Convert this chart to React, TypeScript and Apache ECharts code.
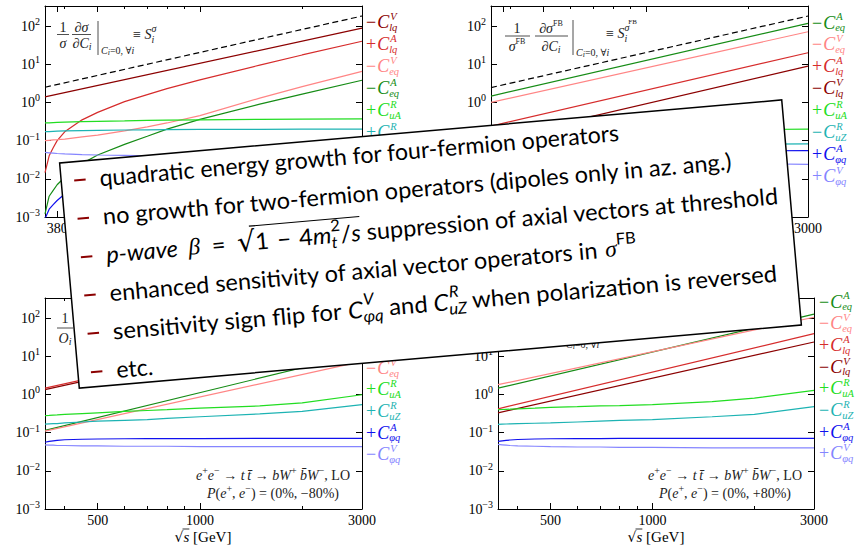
import React, { useEffect, useRef } from "react";
import * as echarts from "echarts";

const SERIF = "'Liberation Serif', 'DejaVu Serif', serif";
const SANS = "Lato, 'Open Sans', sans-serif";

// ---------------- data ----------------
const sqrtSFine = [350, 360, 370, 380, 400, 450, 500, 600, 700, 800, 1000, 1500, 2000, 3000];
const sqrtSEnds = [350, 3000];

const xMajorTop = [380, 500, 1000, 3000];
const xMajorBottom = [500, 1000, 3000];
const xMinor = [400, 600, 700, 800, 900, 2000];
const yDecades = [0.001, 0.01, 0.1, 1, 10, 100];

// top-left: (1/sigma) dsigma/dC
const tlRef = [2.5, 183];
const tlLqV = [1.4, 88];
const tlLqA = [0.0145, 0.04, 0.065, 0.1, 0.17, 0.35, 0.55, 1.05, 1.6, 2.3, 3.9, 9.5, 17.5, 40];
const tlEqV = [0.1, 0.102, 0.104, 0.106, 0.11, 0.125, 0.14, 0.18, 0.23, 0.29, 0.45, 1.3, 2.6, 6.5];
const tlEqA = [0.0012, 0.0035, 0.005, 0.007, 0.011, 0.025, 0.042, 0.08, 0.13, 0.2, 0.36, 0.9, 1.65, 3.8];
const tlUA = [0.29, 0.29, 0.295, 0.3, 0.305, 0.315, 0.32, 0.33, 0.34, 0.345, 0.35, 0.36, 0.365, 0.37];
const tlUZ = [0.172, 0.173, 0.175, 0.177, 0.18, 0.183, 0.186, 0.19, 0.192, 0.194, 0.196, 0.198, 0.199, 0.2];
const tlPhiA = [0.0009, 0.0016, 0.0021, 0.0027, 0.004, 0.008, 0.012, 0.017, 0.02, 0.022, 0.024, 0.026, 0.027, 0.027];
const tlPhiV = [0.049, 0.048, 0.047, 0.046, 0.045, 0.043, 0.042, 0.041, 0.04, 0.04, 0.04, 0.04, 0.04, 0.04];

// top-right: (1/sigmaFB) dsigmaFB/dC
const trRef = [2.45, 183];
const trEqA = [1.47, 118];
const trEqV = [1.0, 71];
const trLqA = [0.24, 20];
const trLqV = [0.105, 8.9];
const trUA = [0.17, 0.2];
const trUZ = [0.075, 0.082];
const trPhiA = [0.05, 0.055];
const trPhiV = [0.03, 0.024];

// bottom-left: P = (0%, -80%)
const blLqA = [1.46, 100];
const blLqV = [1.33, 90];
const blEqA = [0.115, 12];
const blEqV = [0.11, 7.3];
const blUA = [0.28, 0.283, 0.287, 0.29, 0.3, 0.315, 0.33, 0.36, 0.38, 0.4, 0.44, 0.5, 0.6, 0.98];
const blUZ = [0.167, 0.169, 0.171, 0.173, 0.18, 0.19, 0.2, 0.21, 0.22, 0.235, 0.26, 0.31, 0.36, 0.54];
const blPhiA = [0.056, 0.059, 0.061, 0.063, 0.065, 0.067, 0.068, 0.069, 0.07, 0.07, 0.07, 0.071, 0.071, 0.071];
const blPhiV = [0.048, 0.047, 0.047, 0.046, 0.046, 0.045, 0.045, 0.044, 0.044, 0.044, 0.043, 0.043, 0.043, 0.043];

// bottom-right: P = (0%, +80%)
const brEqA = [1.46, 127];
const brEqV = [1.8, 105];
const brLqA = [0.42, 39];
const brLqV = [0.33, 23.6];
const brUA = [0.4, 0.403, 0.407, 0.41, 0.42, 0.44, 0.46, 0.48, 0.5, 0.51, 0.54, 0.65, 0.8, 1.27];
const brUZ = [0.164, 0.166, 0.168, 0.17, 0.172, 0.176, 0.18, 0.19, 0.2, 0.21, 0.22, 0.26, 0.3, 0.48];
const brPhiA = [0.059, 0.061, 0.063, 0.064, 0.066, 0.068, 0.069, 0.07, 0.07, 0.071, 0.071, 0.071, 0.071, 0.071];
const brPhiV = [0.049, 0.048, 0.047, 0.046, 0.045, 0.044, 0.043, 0.042, 0.042, 0.041, 0.041, 0.04, 0.04, 0.04];

// right-hand labels (sign, operator) in order; "" marks a label hidden under the box
const tlLabels = [["−", "lqV"], ["+", "lqA"], ["−", "eqV"], ["−", "eqA"], ["+", "uA"], ["+", "uZ"], ["", "phiV"], ["", "phiA"]];
const trLabels = [["−", "eqA"], ["−", "eqV"], ["+", "lqA"], ["−", "lqV"], ["+", "uA"], ["−", "uZ"], ["+", "phiA"], ["+", "phiV"]];
const blLabels = [["", "lqA"], ["", "lqV"], ["", "eqA"], ["−", "eqV"], ["+", "uA"], ["+", "uZ"], ["+", "phiA"], ["−", "phiV"]];
const brLabels = [["−", "eqA"], ["−", "eqV"], ["+", "lqA"], ["−", "lqV"], ["+", "uA"], ["−", "uZ"], ["+", "phiA"], ["+", "phiV"]];

const OPS: Record<string, { sup: string; sub: string }> = {
  lqV: { sup: "V", sub: "lq" }, lqA: { sup: "A", sub: "lq" },
  eqV: { sup: "V", sub: "eq" }, eqA: { sup: "A", sub: "eq" },
  uA: { sup: "R", sub: "uA" }, uZ: { sup: "R", sub: "uZ" },
  phiA: { sup: "A", sub: "φq" }, phiV: { sup: "V", sub: "φq" },
};

const COL: Record<string, string> = {
  ref: "#000000", lqV: "#8b0000", lqA: "#d62c2c", eqV: "#ff8585", eqA: "#168c16",
  uA: "#22dd22", uZ: "#1db3b3", phiA: "#1010ee", phiV: "#8585ff",
};

const boxLine1 = "quadratic energy growth for four-fermion operators";
const boxLine2 = "no growth for two-fermion operators (dipoles only in az. ang.)";

// ---------------- text layout helpers ----------------
let ctx2: CanvasRenderingContext2D | null = null;
function tw(t: string, f: string): number {
  if (!ctx2) ctx2 = document.createElement("canvas").getContext("2d");
  if (!ctx2) return t.length * 7;
  ctx2.font = f;
  return ctx2.measureText(t).width;
}
interface Piece { t: string; f: string; dy?: number; dx?: number }
type Seg = Piece | { stack: Piece[] };
function segW(s: Seg): number {
  if ("stack" in s) return Math.max(...s.stack.map((p) => tw(p.t, p.f) + (p.dx || 0)));
  return tw(s.t, s.f) + (s.dx || 0);
}
function txt(x: number, y: number, t: string, f: string, fill: string, z: number) {
  return {
    type: "text", x, y, z, silent: true,
    style: { text: t, font: f, fill, align: "left", verticalAlign: "middle", textAlign: "left", textVerticalAlign: "middle" },
  };
}
function layout(segs: Seg[], x0: number, y0: number, fill: string, z: number, align = "left") {
  const widths = segs.map(segW);
  const total = widths.reduce((a, b) => a + b, 0);
  let x = align === "left" ? x0 : align === "center" ? x0 - total / 2 : x0 - total;
  const els: any[] = [];
  const xs: number[] = [];
  segs.forEach((s, i) => {
    xs.push(x);
    const ps = "stack" in s ? s.stack : [s];
    ps.forEach((p) => { if (p.t.trim() !== "") els.push(txt(x + (p.dx || 0), y0 + (p.dy || 0), p.t, p.f, fill, z)); });
    x += widths[i];
  });
  xs.push(x);
  return { els, xs, total };
}
function ln(x1: number, y1: number, x2: number, y2: number, stroke: string, w: number, z: number) {
  return { type: "line", z, silent: true, shape: { x1, y1, x2, y2 }, style: { stroke, lineWidth: w } };
}

// ---------------- chart building ----------------
const GRIDS = [
  { left: 45, top: 6, width: 317, height: 211 },
  { left: 491, top: 6, width: 317, height: 211 },
  { left: 45, top: 298, width: 317, height: 211 },
  { left: 498, top: 298, width: 316, height: 211 },
];

function xAxes(g: number, labels: number[], majors: number[]) {
  const base: any = { gridIndex: g, type: "log", logBase: 10, min: 350, max: 3000, splitLine: { show: false }, minorTick: { show: false } };
  const ts = { color: "#000", width: 1 };
  const al = { show: true, onZero: false, lineStyle: { color: "#000", width: 1 } };
  return [
    { ...base, position: "bottom", axisLine: al, axisTick: { show: true, inside: true, length: 6, customValues: majors, lineStyle: ts },
      axisLabel: { show: true, customValues: labels, formatter: (v: number) => String(Math.round(v)), color: "#000", fontFamily: SERIF, fontSize: 14, margin: 4 } },
    { ...base, position: "bottom", axisLine: { show: false }, axisTick: { show: true, inside: true, length: 3, customValues: xMinor, lineStyle: ts }, axisLabel: { show: false } },
    { ...base, position: "top", axisLine: al, axisTick: { show: true, inside: true, length: 6, customValues: majors, lineStyle: ts }, axisLabel: { show: false } },
    { ...base, position: "top", axisLine: { show: false }, axisTick: { show: true, inside: true, length: 3, customValues: xMinor, lineStyle: ts }, axisLabel: { show: false } },
  ];
}
function powFmt(v: number) {
  const e = Math.round(Math.log10(v));
  return "{b|10}{s|" + (e < 0 ? "−" + -e : String(e)) + "}";
}
function yAxes(g: number) {
  const base: any = { gridIndex: g, type: "log", logBase: 10, min: 0.001, max: 335, splitLine: { show: false }, minorTick: { show: false } };
  const ts = { color: "#000", width: 1 };
  const al = { show: true, onZero: false, lineStyle: { color: "#000", width: 1 } };
  return [
    { ...base, position: "left", axisLine: al, axisTick: { show: true, inside: true, length: 6, customValues: yDecades, lineStyle: ts },
      axisLabel: { show: true, customValues: yDecades, formatter: powFmt, margin: 5,
        rich: { b: { fontSize: 14, fontFamily: SERIF, color: "#000" }, s: { fontSize: 10, fontFamily: SERIF, color: "#000", padding: [0, 0, 9, 0] } } } },
    { ...base, position: "right", axisLine: al, axisTick: { show: true, inside: true, length: 6, customValues: yDecades, lineStyle: ts }, axisLabel: { show: false } },
  ];
}
function ser(g: number, xs: number[], ys: number[], key: string, dashed = false) {
  return {
    type: "line", xAxisIndex: g * 4, yAxisIndex: g * 2, symbol: "none", silent: true, z: 2,
    data: xs.map((x, i) => [x, ys[i]]),
    lineStyle: { color: COL[key], width: 1.2, type: dashed ? [6, 3.5] : "solid" },
  };
}

function rightLabels(list: string[][], x: number, y0: number, step: number) {
  const out: any[] = [];
  const f = `18px ${SERIF}`, fi = `italic 18px ${SERIF}`, fs = `italic 10.5px ${SERIF}`;
  list.forEach(([sign, key], k) => {
    if (!sign) return; // hidden under the overlay box
    const op = OPS[key];
    const L = layout([{ t: sign, f }, { t: "C", f: fi, dx: 1 }, { stack: [{ t: op.sup, f: fs, dy: -5.6, dx: 1 }, { t: op.sub, f: fs, dy: 5.3 }] }], x, y0 + k * step, COL[key], 50);
    out.push(...L.els);
  });
  return out;
}

function buildGraphics() {
  const g: any[] = [];
  const C = "#222";
  const R14 = `14px ${SERIF}`, I14 = `italic 14px ${SERIF}`, I10 = `italic 10px ${SERIF}`, R10 = `10px ${SERIF}`, R8 = `8px ${SERIF}`, I8 = `italic 8px ${SERIF}`;
  // top-left formula
  g.push(...layout([{ t: "1", f: R14 }], 63, 27, C, 50, "center").els);
  g.push(ln(57, 34.5, 69, 34.5, C, 0.8, 50));
  g.push(...layout([{ t: "σ", f: I14 }], 63, 43, C, 50, "center").els);
  g.push(...layout([{ t: "∂σ", f: I14 }], 81.5, 27, C, 50, "center").els);
  g.push(ln(72, 34.5, 91, 34.5, C, 0.8, 50));
  g.push(...layout([{ t: "∂C", f: I14 }, { t: "i", f: I10, dy: 3 }], 82, 43, C, 50, "center").els);
  g.push(ln(98, 21, 98, 55, C, 0.8, 50));
  g.push(...layout([{ t: "C", f: I10 }, { t: "i", f: I8, dy: 2 }, { t: "=0, ∀", f: R10 }, { t: "i", f: I10 }], 101, 50, C, 50).els);
  g.push(...layout([{ t: "≡ ", f: R14 }, { t: "S", f: I14 }, { stack: [{ t: "σ", f: I10, dy: -6 }, { t: "i", f: I10, dy: 5 }] }], 133, 34, C, 50).els);
  // top-right formula
  g.push(...layout([{ t: "1", f: R14 }], 517, 28, C, 50, "center").els);
  g.push(ln(505, 36, 530, 36, C, 0.8, 50));
  g.push(...layout([{ t: "σ", f: I14 }, { t: "FB", f: R8, dy: -5 }], 517, 46, C, 50, "center").els);
  g.push(...layout([{ t: "∂σ", f: I14 }, { t: "FB", f: R8, dy: -5 }], 551, 28, C, 50, "center").els);
  g.push(ln(535, 36, 568, 36, C, 0.8, 50));
  g.push(...layout([{ t: "∂C", f: I14 }, { t: "i", f: I10, dy: 3 }], 551, 46, C, 50, "center").els);
  g.push(ln(573, 20, 573, 55, C, 0.8, 50));
  g.push(...layout([{ t: "C", f: I10 }, { t: "i", f: I8, dy: 2 }, { t: "=0, ∀", f: R10 }, { t: "i", f: I10 }], 576, 52, C, 50).els);
  g.push(...layout([{ t: "≡ ", f: R14 }, { t: "S", f: I14 }, { stack: [{ t: "σ", f: I10, dy: -6 }, { t: "i", f: I10, dy: 5 }] }, { t: "FB", f: `7px ${SERIF}`, dy: -11, dx: -1 }], 606, 33, C, 50).els);
  // bottom formulas (only the parts not covered by the box)
  g.push(...layout([{ t: "1", f: R14 }], 65, 318, C, 50, "center").els);
  g.push(ln(57, 328, 73, 328, C, 0.8, 50));
  g.push(...layout([{ t: "O", f: I14 }, { t: "i", f: I10, dy: 3 }], 65, 338, C, 50, "center").els);
  g.push(...layout([{ t: "C", f: I10 }, { t: "i", f: I8, dy: 2 }, { t: "=0, ∀", f: R10 }, { t: "i", f: I10 }], 566, 344, C, 50).els);
  // process texts
  const I13 = `italic 14px ${SERIF}`, R13 = `14px ${SERIF}`, S9 = `10px ${SERIF}`;
  const arrow = "\u2005→\u2005";
  [[273, "−80%"], [725, "+80%"]].forEach(([cx, pol]) => {
    g.push(...layout([
      { t: "e", f: I13 }, { t: "+", f: S9, dy: -5 }, { t: "e", f: I13 }, { t: "−", f: S9, dy: -5 }, { t: arrow, f: R13 },
      { t: "t\u2009t̄", f: I13 }, { t: arrow, f: R13 }, { t: "bW", f: I13 }, { t: "+", f: S9, dy: -5 }, { t: " b̄W", f: I13 },
      { t: "−", f: S9, dy: -5 }, { t: ", LO", f: R13 },
    ], cx as number, 475, C, 50, "center").els);
    g.push(...layout([
      { t: "P", f: I13 }, { t: "(", f: R13 }, { t: "e", f: I13 }, { t: "+", f: S9, dy: -5 }, { t: ", ", f: R13 },
      { t: "e", f: I13 }, { t: "−", f: S9, dy: -5 }, { t: ") = (0%, " + pol + ")", f: R13 },
    ], cx as number, 493, C, 50, "center").els);
  });
  // x-axis names
  [203, 656].forEach((cx) => {
    const L = layout([{ t: "√", f: `14px 'DejaVu Sans'` }, { t: "s", f: `italic 15px ${SERIF}` }, { t: " [GeV]", f: `15px ${SERIF}` }], cx, 537, "#000", 50, "center");
    g.push(...L.els);
    g.push(ln(L.xs[1] - 1, 529, L.xs[2], 529, "#000", 0.8, 50));
  });
  // right labels
  g.push(...rightLabels(tlLabels, 366, 21.7, 22));
  g.push(...rightLabels(trLabels, 812, 22.5, 21.9));
  g.push(...rightLabels(blLabels, 366, 303, 21.6));
  g.push(...rightLabels(brLabels, 819, 301.5, 21.7));

  // overlay box
  const F = (20 * 522) / tw(boxLine1, `20px ${SANS}`);
  const S = `${F}px ${SANS}`, SI = `italic ${F}px ${SANS}`, M = `italic ${F}px ${SERIF}`;
  const Ss = `${0.7 * F}px ${SANS}`, SIs = `italic ${0.7 * F}px ${SANS}`;
  const RAD = `${1.2 * F}px 'DejaVu Sans'`;
  const sp = (k: number) => ({ t: " ", f: S, dx: k * F });
  const lines: Seg[][] = [
    [{ t: boxLine1, f: S }],
    [{ t: boxLine2, f: S }],
    [{ t: "p-wave", f: SI }, sp(0.2), { t: "β", f: M }, sp(0.25), { t: "=", f: S }, sp(0.25), { t: "√", f: RAD },
      { t: "1", f: S }, sp(0.1), { t: "−", f: S }, sp(0.1), { t: "4", f: S }, { t: "m", f: SI }, { stack: [{ t: "2", f: Ss, dy: -0.4 * F }, { t: "t", f: SIs, dy: 0.33 * F }] },
      { t: "/", f: S }, { t: "s", f: SI }, { t: " suppression of axial vectors at threshold", f: S }],
    [{ t: "enhanced sensitivity of axial vector operators in ", f: S }, { t: "σ", f: M }, { t: "FB", f: Ss, dy: -0.42 * F }],
    [{ t: "sensitivity sign flip for ", f: S }, { t: "C", f: SI }, { stack: [{ t: "V", f: SIs, dy: -0.42 * F, dx: 1 }, { t: "φq", f: SIs, dy: 0.33 * F }] },
      { t: " and ", f: S }, { t: "C", f: SI }, { stack: [{ t: "R", f: SIs, dy: -0.42 * F, dx: 1 }, { t: "uZ", f: SIs, dy: 0.33 * F }] },
      { t: " when polarization is reversed", f: S }],
    [{ t: "etc.", f: S }],
  ];
  const targets = [522, 632, 675, 529, 667, 0];
  const kids: any[] = [
    { type: "rect", z: 100, silent: true, shape: { x: -362.5, y: -113, width: 725, height: 226 }, style: { fill: "#fff", stroke: "#000", lineWidth: 1.5 } },
  ];
  lines.forEach((segs, k) => {
    const v = -94.3 + 38.5 * k;
    kids.push(ln(-349.5, v, -338, v, "#8b0000", 2, 101));
    const L = layout(segs, 0, 0, "#000", 101);
    const lineKids: any[] = [...L.els];
    if (k === 2) {
      const top = -0.66 * F;
      lineKids.push(ln(L.xs[6] + 0.72 * tw("√", RAD), top, L.xs[16], top, "#000", 1.2, 101));
    }
    const sx = targets[k] ? targets[k] / L.total : 1;
    kids.push({ type: "group", x: -324, y: v - 1, scaleX: sx, z: 101, children: lineKids });
  });
  g.push({ type: "group", x: 430.5, y: 244, rotation: (5 * Math.PI) / 180, z: 100, children: kids });
  return g;
}

function buildOption() {
  const xAxis = [
    ...xAxes(0, xMajorTop, xMajorTop), ...xAxes(1, xMajorTop, xMajorTop),
    ...xAxes(2, xMajorBottom, xMajorBottom), ...xAxes(3, xMajorBottom, xMajorBottom),
  ];
  const yAxis = [...yAxes(0), ...yAxes(1), ...yAxes(2), ...yAxes(3)];
  const F = sqrtSFine, E = sqrtSEnds;
  const series = [
    ser(0, E, tlRef, "ref", true), ser(0, E, tlLqV, "lqV"), ser(0, F, tlLqA, "lqA"), ser(0, F, tlEqV, "eqV"),
    ser(0, F, tlEqA, "eqA"), ser(0, F, tlUA, "uA"), ser(0, F, tlUZ, "uZ"), ser(0, F, tlPhiA, "phiA"), ser(0, F, tlPhiV, "phiV"),
    ser(1, E, trRef, "ref", true), ser(1, E, trEqA, "eqA"), ser(1, E, trEqV, "eqV"), ser(1, E, trLqA, "lqA"), ser(1, E, trLqV, "lqV"),
    ser(1, E, trUA, "uA"), ser(1, E, trUZ, "uZ"), ser(1, E, trPhiA, "phiA"), ser(1, E, trPhiV, "phiV"),
    ser(2, E, blLqA, "lqA"), ser(2, E, blLqV, "lqV"), ser(2, E, blEqA, "eqA"), ser(2, E, blEqV, "eqV"),
    ser(2, F, blUA, "uA"), ser(2, F, blUZ, "uZ"), ser(2, F, blPhiA, "phiA"), ser(2, F, blPhiV, "phiV"),
    ser(3, E, brEqA, "eqA"), ser(3, E, brEqV, "eqV"), ser(3, E, brLqA, "lqA"), ser(3, E, brLqV, "lqV"),
    ser(3, F, brUA, "uA"), ser(3, F, brUZ, "uZ"), ser(3, F, brPhiA, "phiA"), ser(3, F, brPhiV, "phiV"),
  ];
  return {
    animation: false,
    backgroundColor: "#ffffff",
    grid: GRIDS.map((gr) => ({ ...gr, containLabel: false, outerBoundsMode: "none" })),
    xAxis, yAxis, series,
    graphic: buildGraphics(),
  };
}

export default function App() {
  const ref = useRef<HTMLDivElement>(null);
  useEffect(() => {
    document.body.style.margin = "0";
    if (!ref.current) return;
    const chart = echarts.init(ref.current, null, { renderer: "svg" });
    chart.setOption(buildOption() as any);
    return () => chart.dispose();
  }, []);
  return <div ref={ref} style={{ position: "fixed", left: 0, top: 0, width: 855, height: 545 }} />;
}
